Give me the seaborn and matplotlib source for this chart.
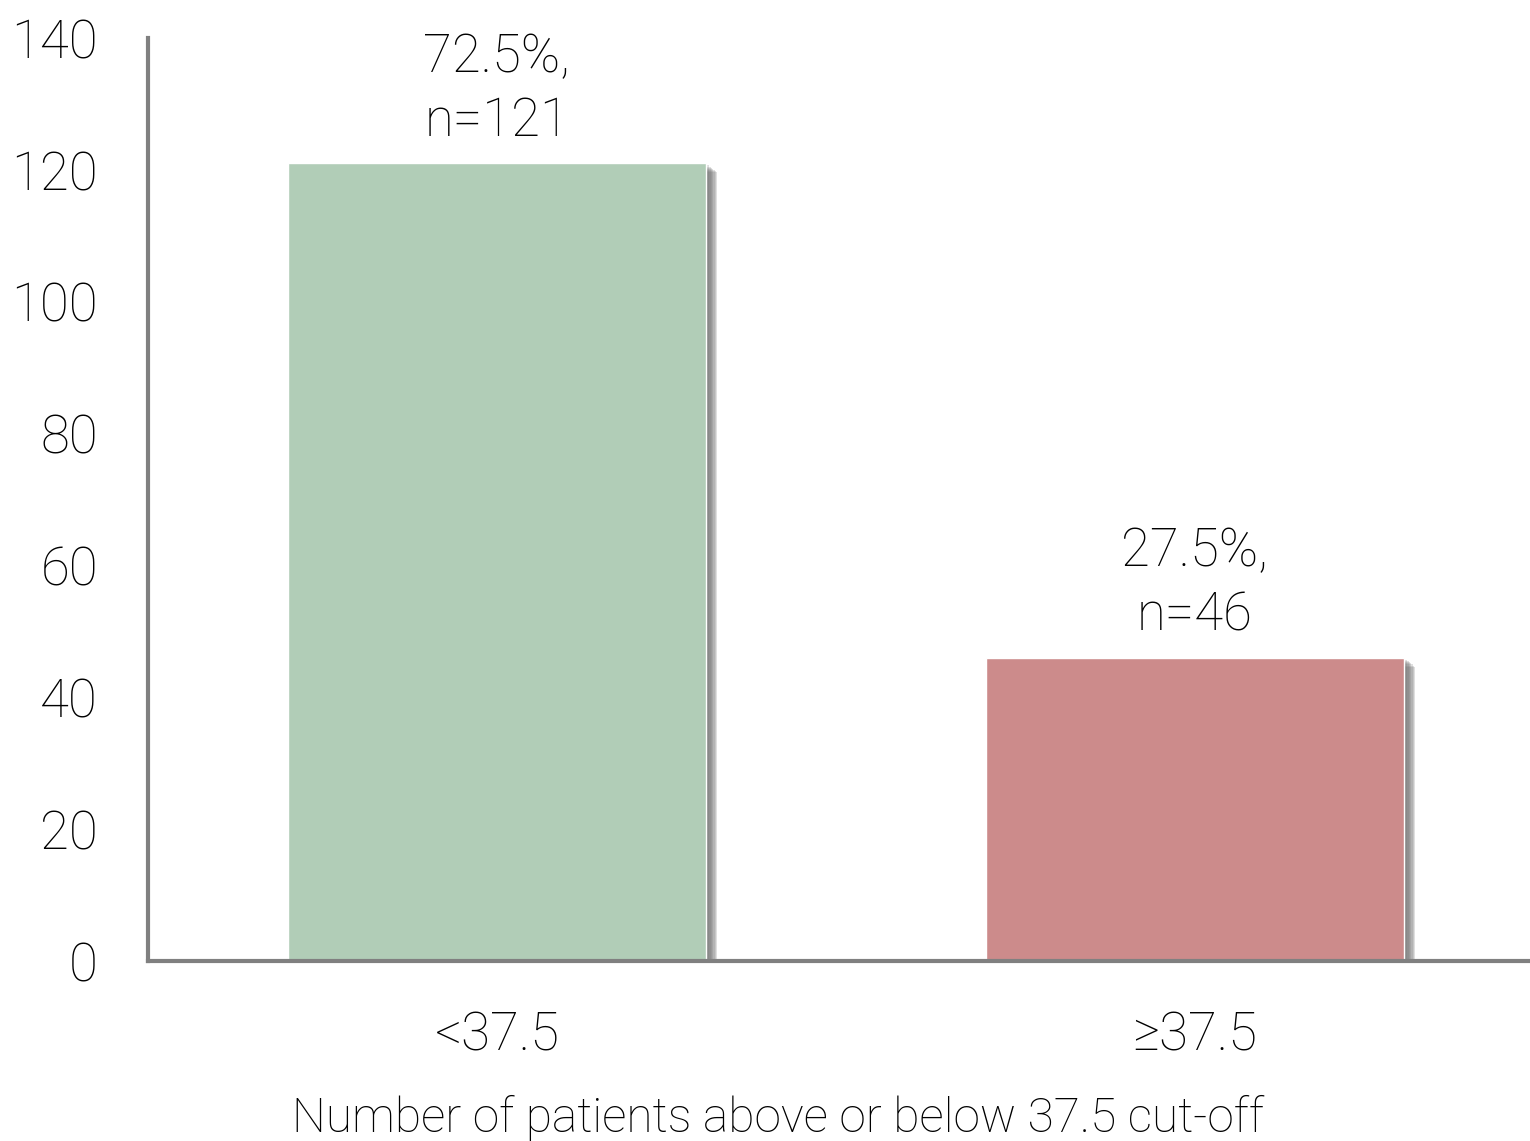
import matplotlib
matplotlib.use("Agg")
import matplotlib.pyplot as plt
import matplotlib.patheffects as pe
import seaborn as sns
import pandas as pd

categories = ["<37.5", "≥37.5"]
counts = [121, 46]
percents = ["72.5%", "27.5%"]
colors = ["#b1cdb7", "#cc8b8b"]

sns.set_theme(style="white")
plt.rcParams['font.family'] = ['Roboto', 'DejaVu Sans']
plt.rcParams['text.color'] = 'black'
plt.rcParams['xtick.color'] = 'black'
plt.rcParams['ytick.color'] = 'black'
plt.rcParams['axes.labelcolor'] = 'black'

df = pd.DataFrame({"cat": categories, "n": counts})

fig = plt.figure(figsize=(15.3, 11.41), dpi=100)
ax = fig.add_axes([148/1530, (1141-961)/1141, 1 - 148/1530, (961-38)/1141])

sns.barplot(data=df, x="cat", y="n", hue="cat", palette=colors, width=0.6,
            legend=False, ax=ax, saturation=1)

effects = [pe.SimplePatchShadow(offset=(k, -k * 0.8), shadow_rgbFace="#707070", alpha=0.22)
           for k in (8, 7, 6, 5, 4, 3, 2)]
for p in ax.patches:
    p.set_path_effects(effects + [pe.Normal()])

for i, (n, pc) in enumerate(zip(counts, percents)):
    ax.annotate(f"{pc},\nn={n}", (i, n), xytext=(0, 12), textcoords="offset points",
                ha="center", va="bottom", fontsize=38, linespacing=1.3, fontweight="light")

ax.set_ylim(0, 140)
ax.set_xlim(-0.5, 1.48)
ax.set_yticks(range(0, 141, 20))
ax.tick_params(axis="both", labelsize=38, length=0)
ax.tick_params(axis="y", pad=36)
ax.tick_params(axis="x", pad=35)
for lbl in ax.get_xticklabels() + ax.get_yticklabels():
    lbl.set_fontweight("light")
ax.set_ylabel("")
ax.set_xlabel("Number of patients above or below 37.5 cut-off", fontsize=34.5,
              fontweight="light")
ax.xaxis.set_label_coords((778 - 148) / 1382, -(1118 - 961) / 923, transform=ax.transAxes)
ax.xaxis.label.set_verticalalignment("center")

for s in ["top", "right"]:
    ax.spines[s].set_visible(False)
for s in ["left", "bottom"]:
    ax.spines[s].set_color("#808080")
    ax.spines[s].set_linewidth(3)

fig.savefig("out.png", dpi=100)
